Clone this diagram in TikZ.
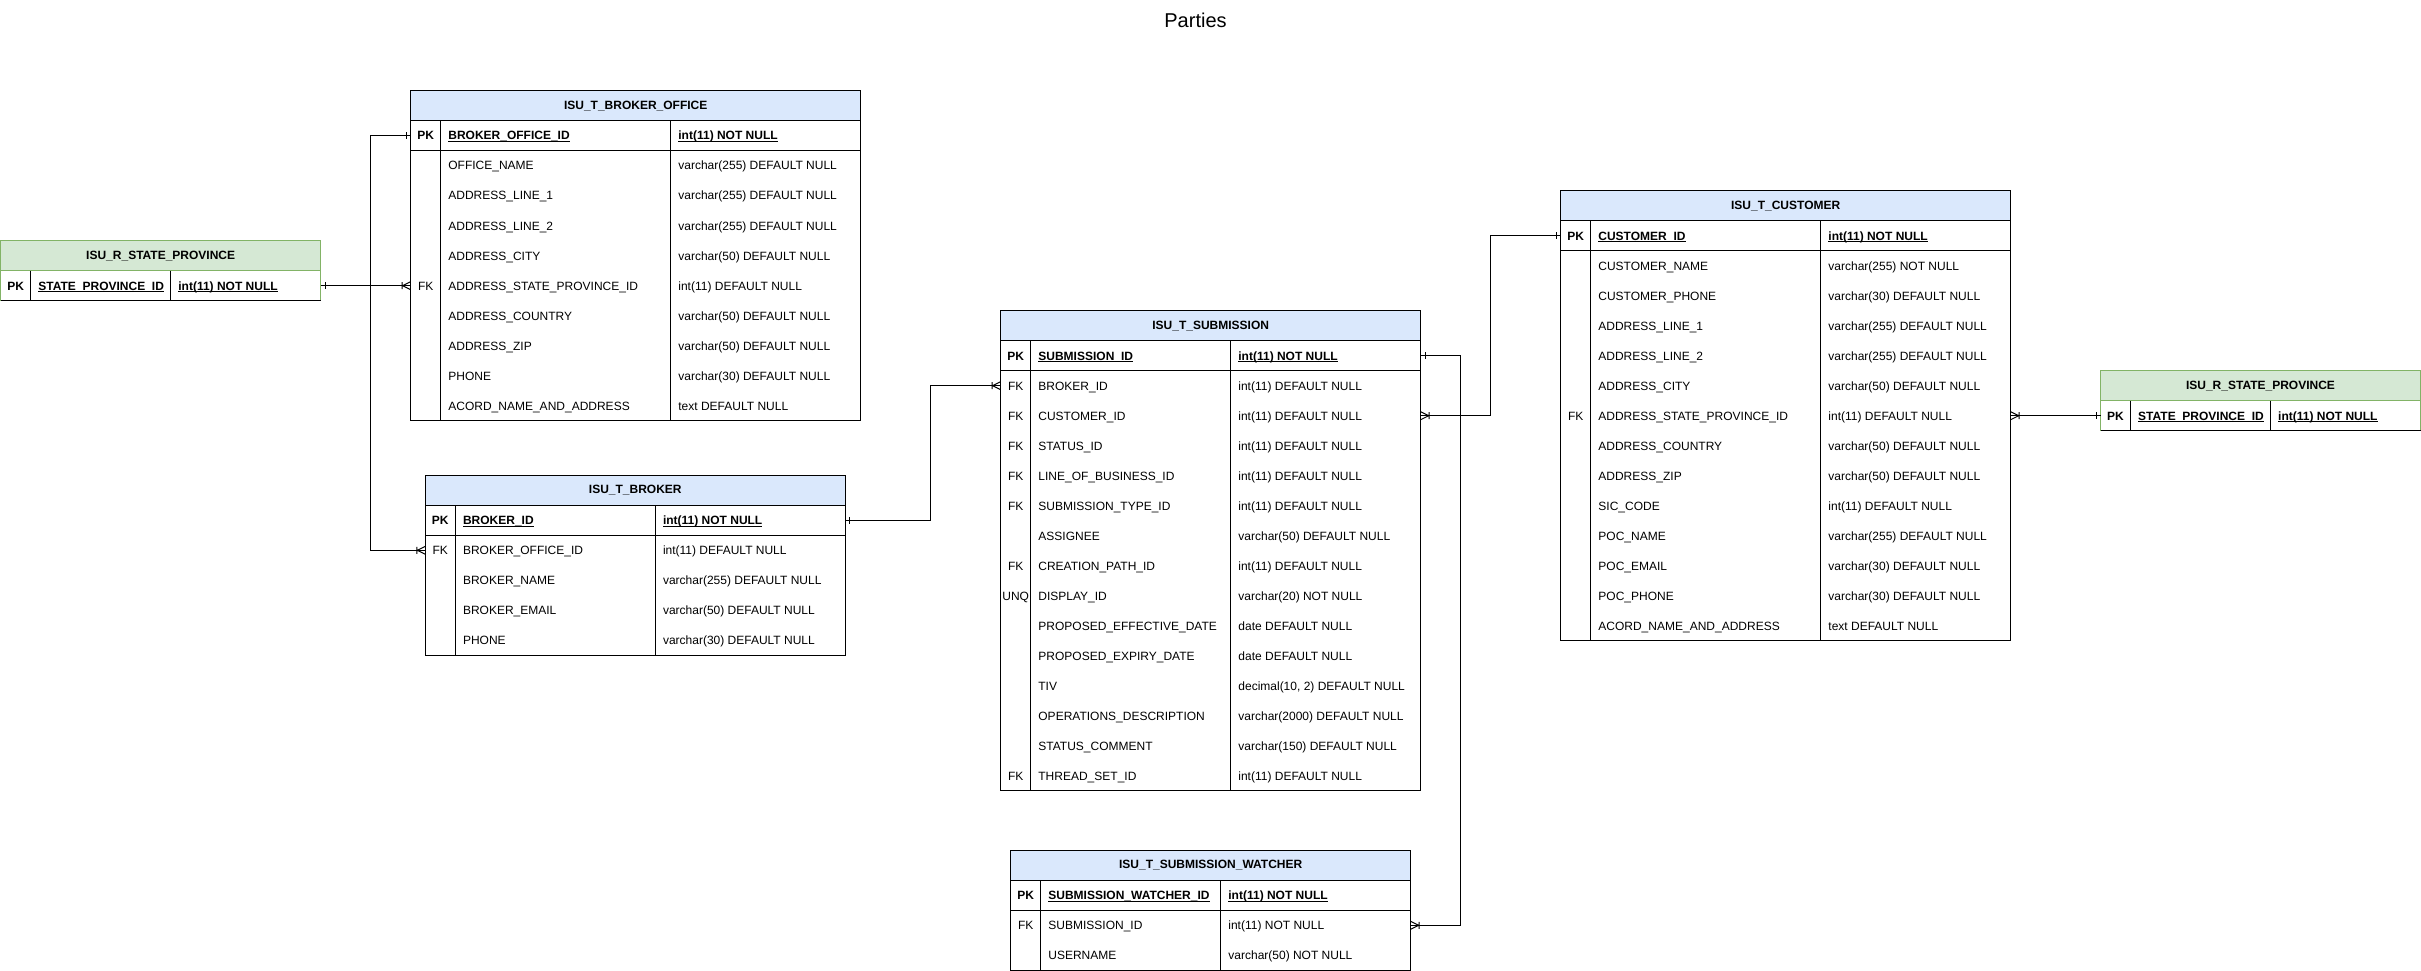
\documentclass[tikz,border=0pt]{standalone}
\usepackage{fontspec}
\setmainfont{Liberation Sans}
\usetikzlibrary{calc}
\definecolor{hdrblue}{HTML}{DAE8FC}
\definecolor{hdrgreen}{HTML}{D5E8D4}
\definecolor{strkgreen}{HTML}{82B366}

\newcommand\ulx[1]{\setbox0=\hbox{#1}\rlap{\rule[-2pt]{\wd0}{1pt}}\box0}

\tikzset{
  tline/.style={line width=1pt, draw=black},
  conn/.style={line width=1pt, draw=black},
  hdrbox/.style={line width=1pt, minimum height=30pt, inner sep=0pt, outer sep=0pt,
    font=\fontsize{12}{14}\selectfont\bfseries},
  celltxt/.style={inner sep=0pt, outer sep=0pt, font=\fontsize{12}{14}\selectfont},
}

% #1 id, #2 x, #3 y, #4 key col, #5 name col, #6 type col, #7 rows, #8 title, #9 header fill
\newcommand\ertable[9]{%
  \def\tid{#1}\def\tx{#2}\def\ty{#3}\def\cA{#4}\def\cB{#5}\def\cC{#6}%
  \pgfmathsetmacro\tw{#4+#5+#6}%
  \pgfmathsetmacro\tb{#3+30+30*#7}%
  \node[hdrbox, fill=#9, draw=\tstroke, minimum width=\tw pt, anchor=north west] (#1) at (#2,#3) {#8};%
  \draw[tline, draw=\tstroke] (#2,#3+30) -- (#2,\tb) -- (#2+\tw,\tb) -- (#2+\tw,#3+30);%
  \draw[tline] (#2+#4,#3+30) -- (#2+#4,\tb) (#2+#4+#5,#3+30) -- (#2+#4+#5,\tb);%
  \draw[tline] (#2,#3+60) -- (#2+\tw,#3+60);%
}
% #1 row index (0 = PK), #2 key, #3 name, #4 type
\newcommand\erow[4]{%
  \pgfmathsetmacro\ry{\ty+45+30*#1}%
  \coordinate (\tid-w#1) at (\tx,\ry);%
  \coordinate (\tid-e#1) at (\tx+\cA+\cB+\cC,\ry);%
  \node[celltxt, anchor=base] (\tid-k#1) at (\tx+\cA/2,\ry+4.3) {#2};%
  \node[celltxt, anchor=base west] (\tid-n#1) at (\tx+\cA+7.7,\ry+4.3) {#3};%
  \node[celltxt, anchor=base west] (\tid-t#1) at (\tx+\cA+\cB+7.7,\ry+4.3) {#4};%
}
\newcommand\pkrow[2]{\erow{0}{\textbf{PK}}{\textbf{\ulx{#1}}}{\textbf{\ulx{#2}}}}
\newcommand\erOne[2]{\draw[conn,shift={(#1)},xscale=#2] (4.5,-3.5) -- (4.5,3.5);}
\newcommand\erMany[2]{\draw[conn,shift={(#1)},xscale=#2] (0,-4) -- (8,0) -- (0,4) (8.5,-3.5) -- (8.5,3.5);}

\begin{document}
\begin{tikzpicture}[x=1pt,y=-1pt]
\path[use as bounding box, fill=white] (0,0) rectangle (2421,971);

\node[inner sep=0pt, anchor=base, font=\fontsize{20}{24}\selectfont] (title) at (1195.5,27.7) {Parties};

% ---- ISU_R_STATE_PROVINCE (left)
\def\tstroke{strkgreen}
\ertable{spa}{0.7}{240.7}{30}{140}{150}{1}{ISU\_R\_STATE\_PROVINCE}{hdrgreen}
\pkrow{STATE\_PROVINCE\_ID}{int(11) NOT NULL}

% ---- ISU_T_BROKER_OFFICE
\def\tstroke{black}
\ertable{bo}{410.7}{90.7}{30}{230}{190}{10}{ISU\_T\_BROKER\_OFFICE}{hdrblue}
\pkrow{BROKER\_OFFICE\_ID}{int(11) NOT NULL}
\erow{1}{}{OFFICE\_NAME}{varchar(255) DEFAULT NULL}
\erow{2}{}{ADDRESS\_LINE\_1}{varchar(255) DEFAULT NULL}
\erow{3}{}{ADDRESS\_LINE\_2}{varchar(255) DEFAULT NULL}
\erow{4}{}{ADDRESS\_CITY}{varchar(50) DEFAULT NULL}
\erow{5}{FK}{ADDRESS\_STATE\_PROVINCE\_ID}{int(11) DEFAULT NULL}
\erow{6}{}{ADDRESS\_COUNTRY}{varchar(50) DEFAULT NULL}
\erow{7}{}{ADDRESS\_ZIP}{varchar(50) DEFAULT NULL}
\erow{8}{}{PHONE}{varchar(30) DEFAULT NULL}
\erow{9}{}{ACORD\_NAME\_AND\_ADDRESS}{text DEFAULT NULL}

% ---- ISU_T_BROKER
\ertable{br}{425.3}{475.3}{30}{200}{190}{5}{ISU\_T\_BROKER}{hdrblue}
\pkrow{BROKER\_ID}{int(11) NOT NULL}
\erow{1}{FK}{BROKER\_OFFICE\_ID}{int(11) DEFAULT NULL}
\erow{2}{}{BROKER\_NAME}{varchar(255) DEFAULT NULL}
\erow{3}{}{BROKER\_EMAIL}{varchar(50) DEFAULT NULL}
\erow{4}{}{PHONE}{varchar(30) DEFAULT NULL}

% ---- ISU_T_SUBMISSION
\ertable{sub}{1000.7}{310.7}{30}{200}{190}{15}{ISU\_T\_SUBMISSION}{hdrblue}
\pkrow{SUBMISSION\_ID}{int(11) NOT NULL}
\erow{1}{FK}{BROKER\_ID}{int(11) DEFAULT NULL}
\erow{2}{FK}{CUSTOMER\_ID}{int(11) DEFAULT NULL}
\erow{3}{FK}{STATUS\_ID}{int(11) DEFAULT NULL}
\erow{4}{FK}{LINE\_OF\_BUSINESS\_ID}{int(11) DEFAULT NULL}
\erow{5}{FK}{SUBMISSION\_TYPE\_ID}{int(11) DEFAULT NULL}
\erow{6}{}{ASSIGNEE}{varchar(50) DEFAULT NULL}
\erow{7}{FK}{CREATION\_PATH\_ID}{int(11) DEFAULT NULL}
\erow{8}{UNQ}{DISPLAY\_ID}{varchar(20) NOT NULL}
\erow{9}{}{PROPOSED\_EFFECTIVE\_DATE}{date DEFAULT NULL}
\erow{10}{}{PROPOSED\_EXPIRY\_DATE}{date DEFAULT NULL}
\erow{11}{}{TIV}{decimal(10, 2) DEFAULT NULL}
\erow{12}{}{OPERATIONS\_DESCRIPTION}{varchar(2000) DEFAULT NULL}
\erow{13}{}{STATUS\_COMMENT}{varchar(150) DEFAULT NULL}
\erow{14}{FK}{THREAD\_SET\_ID}{int(11) DEFAULT NULL}

% ---- ISU_T_SUBMISSION_WATCHER
\ertable{sw}{1010.7}{850.3}{30}{180}{190}{3}{ISU\_T\_SUBMISSION\_WATCHER}{hdrblue}
\pkrow{SUBMISSION\_WATCHER\_ID}{int(11) NOT NULL}
\erow{1}{FK}{SUBMISSION\_ID}{int(11) NOT NULL}
\erow{2}{}{USERNAME}{varchar(50) NOT NULL}

% ---- ISU_T_CUSTOMER
\ertable{cu}{1560.7}{190.7}{30}{230}{190}{14}{ISU\_T\_CUSTOMER}{hdrblue}
\pkrow{CUSTOMER\_ID}{int(11) NOT NULL}
\erow{1}{}{CUSTOMER\_NAME}{varchar(255) NOT NULL}
\erow{2}{}{CUSTOMER\_PHONE}{varchar(30) DEFAULT NULL}
\erow{3}{}{ADDRESS\_LINE\_1}{varchar(255) DEFAULT NULL}
\erow{4}{}{ADDRESS\_LINE\_2}{varchar(255) DEFAULT NULL}
\erow{5}{}{ADDRESS\_CITY}{varchar(50) DEFAULT NULL}
\erow{6}{FK}{ADDRESS\_STATE\_PROVINCE\_ID}{int(11) DEFAULT NULL}
\erow{7}{}{ADDRESS\_COUNTRY}{varchar(50) DEFAULT NULL}
\erow{8}{}{ADDRESS\_ZIP}{varchar(50) DEFAULT NULL}
\erow{9}{}{SIC\_CODE}{int(11) DEFAULT NULL}
\erow{10}{}{POC\_NAME}{varchar(255) DEFAULT NULL}
\erow{11}{}{POC\_EMAIL}{varchar(30) DEFAULT NULL}
\erow{12}{}{POC\_PHONE}{varchar(30) DEFAULT NULL}
\erow{13}{}{ACORD\_NAME\_AND\_ADDRESS}{text DEFAULT NULL}

% ---- ISU_R_STATE_PROVINCE (right)
\def\tstroke{strkgreen}
\ertable{spb}{2100.5}{370.7}{30}{140}{150}{1}{ISU\_R\_STATE\_PROVINCE}{hdrgreen}
\pkrow{STATE\_PROVINCE\_ID}{int(11) NOT NULL}

% ---- connectors
\draw[conn] (spa-e0) -- (bo-w5);
\erOne{spa-e0}{1}
\erMany{bo-w5}{-1}

\draw[conn] (bo-w0) -- ++(-40.4,0) |- (br-w1);
\erOne{bo-w0}{-1}
\erMany{br-w1}{-1}

\draw[conn] (br-e0) -- ++(85,0) |- (sub-w1);
\erOne{br-e0}{1}
\erMany{sub-w1}{-1}

\draw[conn] (sub-e0) -- ++(39.6,0) |- (sw-e1);
\erOne{sub-e0}{1}
\erMany{sw-e1}{1}

\draw[conn] (cu-w0) -- ++(-70.4,0) |- (sub-e2);
\erOne{cu-w0}{-1}
\erMany{sub-e2}{1}

\draw[conn] (cu-e6) -- (spb-w0);
\erMany{cu-e6}{1}
\erOne{spb-w0}{-1}
\end{tikzpicture}
\end{document}
